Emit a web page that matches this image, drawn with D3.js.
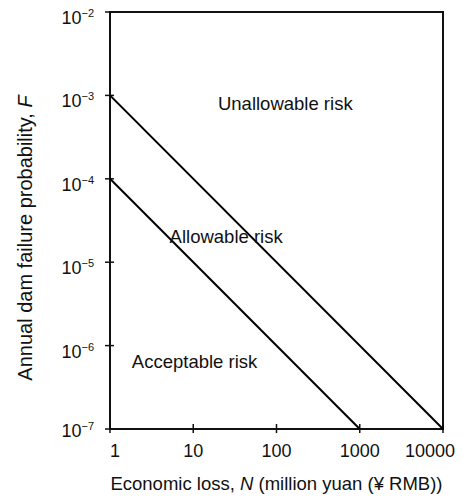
<!DOCTYPE html>
<html>
<head>
<meta charset="utf-8">
<script src="https://cdn.jsdelivr.net/npm/d3@7"></script>
<style>
  html, body { margin: 0; padding: 0; background: #fff; }
  svg { display: block; font-family: "Liberation Sans", Arial, sans-serif; }
</style>
</head>
<body>
<svg id="chart" width="463" height="497"></svg>
<script>
// ---- data ----
const xTicks = [1, 10, 100, 1000, 10000];
const xTickLabels = ["1", "10", "100", "1000", "10000"];
const yExponents = [-7, -6, -5, -4, -3, -2];
const upperLine = [{N: 1, F: 1e-3}, {N: 10000, F: 1e-7}];
const lowerLine = [{N: 1, F: 1e-4}, {N: 1000, F: 1e-7}];
const regionLabels = [
  {text: "Unallowable risk", N: 19.8, F: 6.7e-4},
  {text: "Allowable risk", N: 5.2, F: 1.7e-5},
  {text: "Acceptable risk", N: 1.83, F: 5.4e-7}
];
const xTitle = ["Economic loss, ", "N", " (million yuan (\u00A5 RMB))"];
const yTitle = ["Annual dam failure probability, ", "F"];

// ---- layout ----
const svg = d3.select("#chart");
const m = {left: 110, right: 20, top: 12, bottom: 68};
const W = 463, H = 497;
const x = d3.scaleLog().domain([1, 10000]).range([m.left, W - m.right]);
const y = d3.scaleLog().domain([1e-7, 1e-2]).range([H - m.bottom, m.top]);
const fs = 18;
const ink = "#111";

// frame
svg.append("rect")
  .attr("x", x(1)).attr("y", y(1e-2))
  .attr("width", x(10000) - x(1)).attr("height", y(1e-7) - y(1e-2))
  .attr("fill", "none").attr("stroke", ink).attr("stroke-width", 2);

// x ticks (crossing)
const gx = svg.append("g");
gx.selectAll("line").data(xTicks).join("line")
  .attr("x1", d => x(d)).attr("x2", d => x(d))
  .attr("y1", y(1e-7) - 5).attr("y2", y(1e-7) + 4)
  .attr("stroke", ink).attr("stroke-width", 1.5);
const nX = xTicks.length;
gx.selectAll("text").data(xTicks).join("text")
  .attr("x", (d, i) => i === nX - 1 ? x(d) + 12 : x(d))
  .attr("y", y(1e-7) + 28)
  .attr("text-anchor", (d, i) => i === 0 ? "start" : (i === nX - 1 ? "end" : "middle"))
  .attr("font-size", fs)
  .attr("fill", ink)
  .text((d, i) => xTickLabels[i]);

// y ticks (crossing)
const gy = svg.append("g");
gy.selectAll("line").data(yExponents).join("line")
  .attr("x1", x(1) - 5).attr("x2", x(1) + 4)
  .attr("y1", d => y(Math.pow(10, d))).attr("y2", d => y(Math.pow(10, d)))
  .attr("stroke", ink).attr("stroke-width", 1.5);
const yl = gy.selectAll("text").data(yExponents).join("text")
  .attr("x", 94)
  .attr("y", d => Math.min(y(Math.pow(10, d)) + 12, y(1e-7) + 8))
  .attr("text-anchor", "end")
  .attr("font-size", fs)
  .attr("fill", ink);
yl.append("tspan").text("10");
yl.append("tspan").attr("font-size", 11).attr("dy", -7).text(d => "\u2212" + Math.abs(d));

// lines
const line = d3.line().x(d => x(d.N)).y(d => y(d.F));
[upperLine, lowerLine].forEach(data => {
  svg.append("path").datum(data).attr("d", line)
    .attr("fill", "none").attr("stroke", "#000").attr("stroke-width", 2);
});

// region labels
svg.selectAll("text.region").data(regionLabels).join("text")
  .attr("class", "region")
  .attr("x", d => x(d.N)).attr("y", d => y(d.F))
  .attr("font-size", 18.5)
  .attr("fill", ink)
  .text(d => d.text);

// x title
const xt = svg.append("text")
  .attr("x", (x(1) + x(10000)) / 2).attr("y", 490)
  .attr("text-anchor", "middle").attr("font-size", 18.5).attr("fill", ink);
xt.selectAll("tspan").data(xTitle).join("tspan")
  .attr("font-style", (d, i) => i === 1 ? "italic" : "normal")
  .text(d => d);

// y title
const yt = svg.append("text")
  .attr("transform", "translate(32,238) rotate(-90)")
  .attr("text-anchor", "middle").attr("font-size", 20).attr("fill", ink);
yt.selectAll("tspan").data(yTitle).join("tspan")
  .attr("font-style", (d, i) => i === 1 ? "italic" : "normal")
  .text(d => d);
</script>
</body>
</html>
